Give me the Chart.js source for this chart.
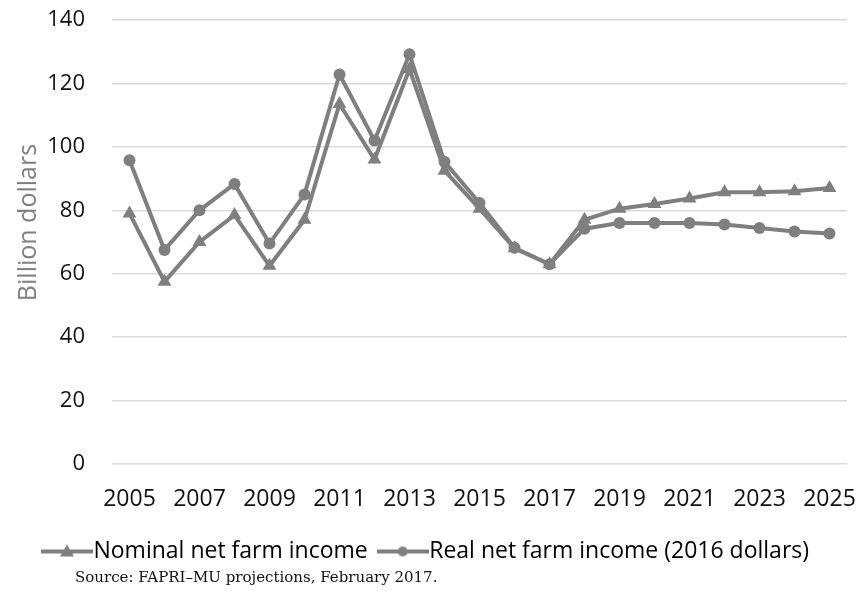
<!DOCTYPE html>
<html>
<head>
<meta charset="utf-8">
<script src="https://cdn.jsdelivr.net/npm/chart.js@4.4.1/dist/chart.umd.min.js"></script>
<style>
  html, body { margin: 0; padding: 0; background: #fff; }
  #wrap { position: relative; width: 860px; height: 591px; }
  #source {
    position: absolute; left: 75px; top: 568px;
    font-family: "DejaVu Serif", serif; font-size: 15px; color: #111;
    white-space: nowrap;
  }
</style>
</head>
<body>
<div id="wrap">
  <canvas id="farmChart" width="860" height="591"></canvas>
  <div id="source">Source: FAPRI–MU projections, February 2017.</div>
</div>
<script>
// Net farm income, billion dollars
const years = ['2005', '2006', '2007', '2008', '2009', '2010', '2011', '2012', '2013', '2014', '2015',
  '2016', '2017', '2018', '2019', '2020', '2021', '2022', '2023', '2024', '2025'];
const nominalIncome = [79, 57.5, 70, 78.5, 62.5, 77, 113.5, 96, 124.5, 92.5, 80.5,
  68, 63, 77, 80.5, 82, 83.7, 85.7, 85.7, 86, 87];
const realIncome = [95.8, 67.5, 80, 88.3, 69.5, 85, 122.8, 102, 129.2, 95.3, 82.3,
  68.2, 63, 74.2, 76, 76, 76, 75.5, 74.4, 73.3, 72.7];
const yTicks = [0, 20, 40, 60, 80, 100, 120, 140];

const GREY = '#7f7f7f';

// legend swatch: short line with the series marker in the middle
function swatch(style) {
  const c = document.createElement('canvas');
  c.width = 52; c.height = 20;
  const g = c.getContext('2d');
  g.strokeStyle = GREY;
  g.fillStyle = GREY;
  g.lineWidth = 4;
  g.beginPath();
  g.moveTo(0, 10);
  g.lineTo(52, 10);
  g.stroke();
  g.beginPath();
  if (style === 'triangle') {
    g.moveTo(26, 3);
    g.lineTo(33, 15);
    g.lineTo(19, 15);
    g.closePath();
  } else {
    g.arc(26, 10, 5, 0, Math.PI * 2);
  }
  g.fill();
  return c;
}

const ctx = document.getElementById('farmChart').getContext('2d');
new Chart(ctx, {
  type: 'line',
  data: {
    labels: years,
    datasets: [
      {
        label: 'Nominal net farm income',
        data: nominalIncome,
        borderColor: GREY,
        backgroundColor: GREY,
        borderWidth: 4,
        pointStyle: 'triangle',
        pointRadius: 8,
        pointBorderWidth: 0,
        tension: 0,
        legendSwatch: swatch('triangle')
      },
      {
        label: 'Real net farm income (2016 dollars)',
        data: realIncome,
        borderColor: GREY,
        backgroundColor: GREY,
        borderWidth: 4,
        pointStyle: 'circle',
        pointRadius: 6,
        pointBorderWidth: 0,
        tension: 0,
        legendSwatch: swatch('circle')
      }
    ]
  },
  options: {
    responsive: false,
    animation: false,
    layout: { padding: { left: 14, right: 13, top: 20, bottom: 18 } },
    plugins: {
      tooltip: { enabled: false },
      legend: {
        position: 'bottom',
        labels: {
          usePointStyle: true,
          pointStyleWidth: 30,
          padding: 20,
          color: '#111',
          font: { family: 'Open Sans', size: 23 },
          generateLabels(chart) {
            return chart.data.datasets.map((ds, i) => ({
              text: ds.label,
              pointStyle: ds.legendSwatch,
              fillStyle: GREY,
              strokeStyle: GREY,
              lineWidth: 0,
              hidden: false,
              datasetIndex: i
            }));
          }
        }
      }
    },
    scales: {
      x: {
        offset: true,
        grid: { display: false, drawTicks: false },
        border: { display: false },
        ticks: {
          padding: 22,
          color: '#111',
          autoSkip: false,
          maxRotation: 0,
          font: { family: 'Open Sans', size: 23 },
          callback: (v, i) => (i % 2 === 0 ? years[i] : '')
        },
        afterFit: axis => {
          axis.height = 56;
          axis.paddingLeft = 0;
          axis.paddingRight = 0;
        }
      },
      y: {
        min: 0,
        max: 140,
        afterBuildTicks: axis => { axis.ticks = yTicks.map(v => ({ value: v })); },
        grid: { color: '#d9d9d9', lineWidth: 1.5, drawTicks: false },
        border: { display: false },
        ticks: {
          padding: 27,
          color: '#111',
          font: { family: 'Open Sans', size: 22 }
        },
        title: {
          display: true,
          // leading spaces lift the rotated title above the axis middle
          text: '      Billion dollars',
          color: GREY,
          padding: 0,
          font: { family: 'Open Sans', size: 25 }
        },
        afterFit: axis => {
          axis.width = 98;
          axis.paddingTop = 0;
          axis.paddingBottom = 0;
        }
      }
    }
  }
});
</script>
</body>
</html>
